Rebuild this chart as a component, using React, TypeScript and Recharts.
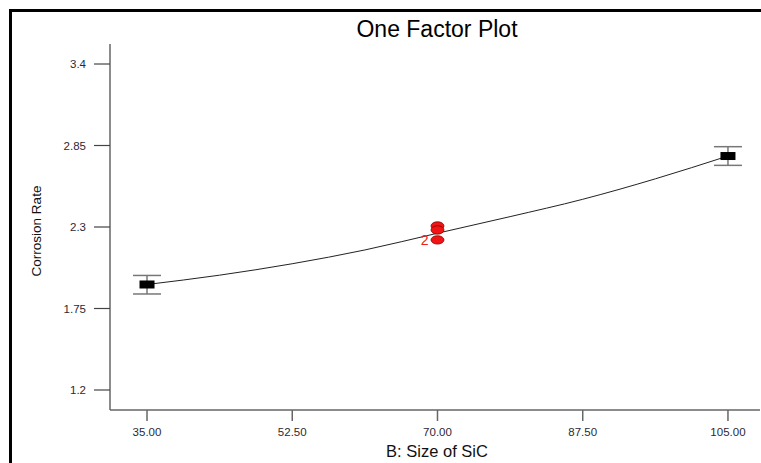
import {
  ComposedChart,
  ErrorBar,
  Line,
  Scatter,
  XAxis,
  YAxis
} from "recharts";

// factor B: size of SiC
const xTicks = [35, 52.5, 70, 87.5, 105];
const yTicks = [1.2, 1.75, 2.3, 2.85, 3.4];

// fitted curve
const fitSize = [35, 43.75, 52.5, 61.25, 70, 78.75, 87.5, 96.25, 105];
const fitRate = [1.912, 1.975, 2.052, 2.145, 2.258, 2.37, 2.487, 2.625, 2.779];

// factor-level means with LSD bars
const levelSize = [35, 105];
const levelRate = [1.912, 2.779];
const levelErrLow = [0.064, 0.063];
const levelErrHigh = [0.061, 0.063];

// design points at the centre
const runSize = [70, 70, 70];
const runRate = [2.307, 2.28, 2.213];
const runCount = [1, 1, 2];

const fitData = fitSize.map((x, i) => ({ x, y: fitRate[i] }));
const levelData = levelSize.map((x, i) => ({
  x,
  y: levelRate[i],
  err: [levelErrLow[i], levelErrHigh[i]]
}));
const runData = runSize.map((x, i) => ({ x, y: runRate[i], count: runCount[i] }));

const xDomain = [30.54, 108.86];
const yDomain = [1.065, 3.535];

const tickStyle = { fill: "#2a2a36", fontSize: 11.5, fontFamily: "Liberation Sans, Arial, sans-serif" };
const axisColor = "#666";

function LevelMark(props: any) {
  const { cx, cy } = props;
  return <rect x={cx - 7.5} y={cy - 4} width={15} height={8} fill="#000" />;
}

function RunMark(props: any) {
  const { cx, cy, payload } = props;
  return (
    <g>
      <ellipse cx={cx} cy={cy} rx={6.5} ry={4.2} fill="#f01414" stroke="#8a0000" strokeWidth={0.8} />
      {payload && payload.count > 1 ? (
        <text x={cx - 9} y={cy + 5} textAnchor="end" fill="#f02020" fontSize={14} fontFamily="Liberation Sans, Arial, sans-serif">
          {payload.count}
        </text>
      ) : null}
    </g>
  );
}

export default function App() {
  const font = "Liberation Sans, Arial, sans-serif";
  return (
    <div style={{ position: "fixed", left: 0, top: 0, width: 761, height: 463, overflow: "hidden", background: "#fff" }}>
      <style>{"html, body { overflow: hidden; margin: 0; }"}</style>
      {/* frame of the exported figure */}
      <div style={{ position: "absolute", left: 9, top: 9, width: 3, height: 454, background: "#000" }} />
      <div style={{ position: "absolute", left: 9, top: 9, width: 752, height: 3, background: "#000" }} />
      <div
        style={{
          position: "absolute",
          left: 137,
          width: 600,
          top: 16,
          textAlign: "center",
          fontFamily: font,
          fontSize: 23,
          color: "#000",
          lineHeight: "27px"
        }}
      >
        One Factor Plot
      </div>
      <div style={{ position: "absolute", left: 8, top: 8 }}>
        <ComposedChart width={753} height={455} margin={{ top: 36, right: 1, bottom: 0, left: 42 }}>
          <XAxis
            xAxisId="top"
            orientation="top"
            type="number"
            dataKey="x"
            domain={xDomain}
            height={0}
            tick={false}
            tickLine={false}
            axisLine={{ stroke: axisColor, strokeWidth: 1.5 }}
          />
          <XAxis
            type="number"
            dataKey="x"
            domain={xDomain}
            ticks={xTicks}
            tickFormatter={(v: number) => v.toFixed(2)}
            height={53}
            tickSize={11}
            tickMargin={7}
            tick={tickStyle}
            stroke={axisColor}
            axisLine={{ stroke: axisColor, strokeWidth: 1.5 }}
            tickLine={{ stroke: axisColor, strokeWidth: 1.5 }}
          />
          <YAxis
            type="number"
            dataKey="y"
            domain={yDomain}
            ticks={yTicks}
            width={60}
            tickSize={16}
            tickMargin={8}
            tick={tickStyle}
            axisLine={{ stroke: axisColor, strokeWidth: 1.5 }}
            tickLine={{ stroke: "#444", strokeWidth: 1.2 }}
          />
          <Line
            data={fitData}
            dataKey="y"
            type="monotone"
            stroke="#222"
            strokeWidth={1}
            dot={false}
            isAnimationActive={false}
          />
          <Scatter data={levelData} dataKey="y" shape={LevelMark} isAnimationActive={false}>
            <ErrorBar dataKey="err" direction="y" width={14} stroke="#777" strokeWidth={1.5} isAnimationActive={false} />
          </Scatter>
          <Scatter data={runData} dataKey="y" shape={RunMark} isAnimationActive={false} />
        </ComposedChart>
      </div>
      <div
        style={{
          position: "absolute",
          left: 237,
          width: 400,
          top: 441,
          textAlign: "center",
          fontFamily: font,
          fontSize: 16.5,
          color: "#111",
          lineHeight: "20px"
        }}
      >
        B: Size of SiC
      </div>
      <div
        style={{
          position: "absolute",
          left: 37,
          top: 231,
          transform: "translate(-50%, -50%) rotate(-90deg)",
          whiteSpace: "nowrap",
          fontFamily: font,
          fontSize: 13.5,
          color: "#111",
          lineHeight: "16px"
        }}
      >
        Corrosion Rate
      </div>
    </div>
  );
}
